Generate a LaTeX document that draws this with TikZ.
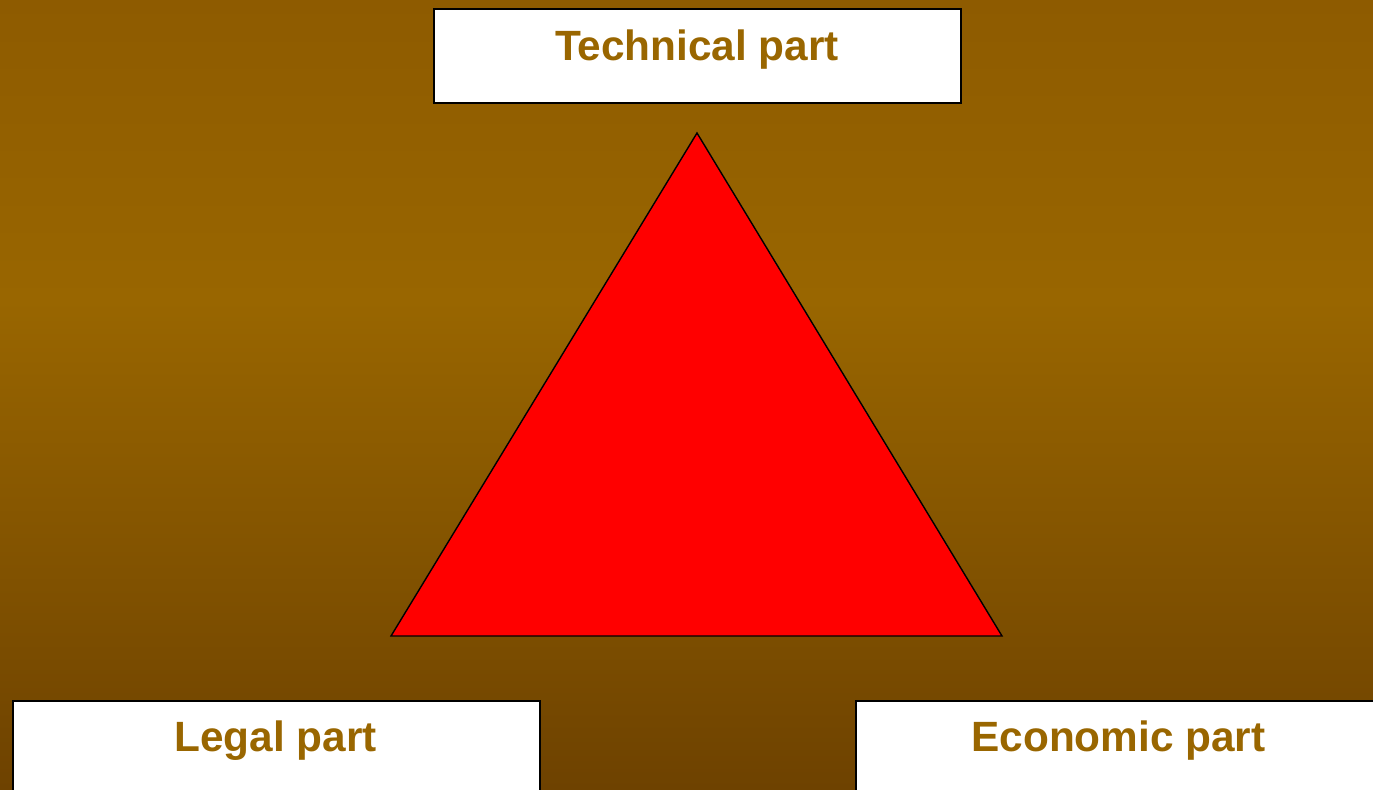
\documentclass[tikz,border=0pt]{standalone}
\usepackage{fontspec}
\setmainfont{Liberation Sans}
\usepackage{tikz}
\usetikzlibrary{positioning}
\definecolor{cTop}{RGB}{142,91,0}
\definecolor{cMid}{RGB}{153,102,0}
\definecolor{cBot}{RGB}{110,66,0}
\definecolor{cText}{RGB}{153,102,0}
\tikzset{
	partbox/.style ={rectangle, draw=black, line width=1pt, fill=white, minimum width=10.54cm, minimum height=1.88cm, anchor=north west},
	partlabel/.style={anchor=base, text=cText, font=\bfseries\fontsize{24.1}{29}\selectfont},
	tri/.style     ={draw=black, line width=0.8pt, fill=red, line join=miter},
}

\begin{document}
\begin{tikzpicture}[x=0.02cm, y=-0.02cm]
	\useasboundingbox (0,0) rectangle (1373,789);
	\clip (0,0) rectangle (1373,789);
	\shade[top color=cTop, bottom color=cMid] (0,0) rectangle (1373,301);
	\shade[top color=cMid, bottom color=cBot] (0,300) rectangle (1373,789);
	% triangle
	\draw[tri] (697,133) -- (1002,636) -- (391,636) -- cycle;
	% boxes
	\node[partbox] (tech) at (433,8) {};
	\node[partbox] (legal) at (12,700) {};
	\node[partbox] (econ) at (855,700) {};
	\node[partlabel] (techtxt) at (697,60) {Technical part};
	\node[partlabel] (legaltxt) at (275.5,751.5) {Legal part};
	\node[partlabel] (econtxt) at (1118.5,751.5) {Economic part};
\end{tikzpicture}
\end{document}
